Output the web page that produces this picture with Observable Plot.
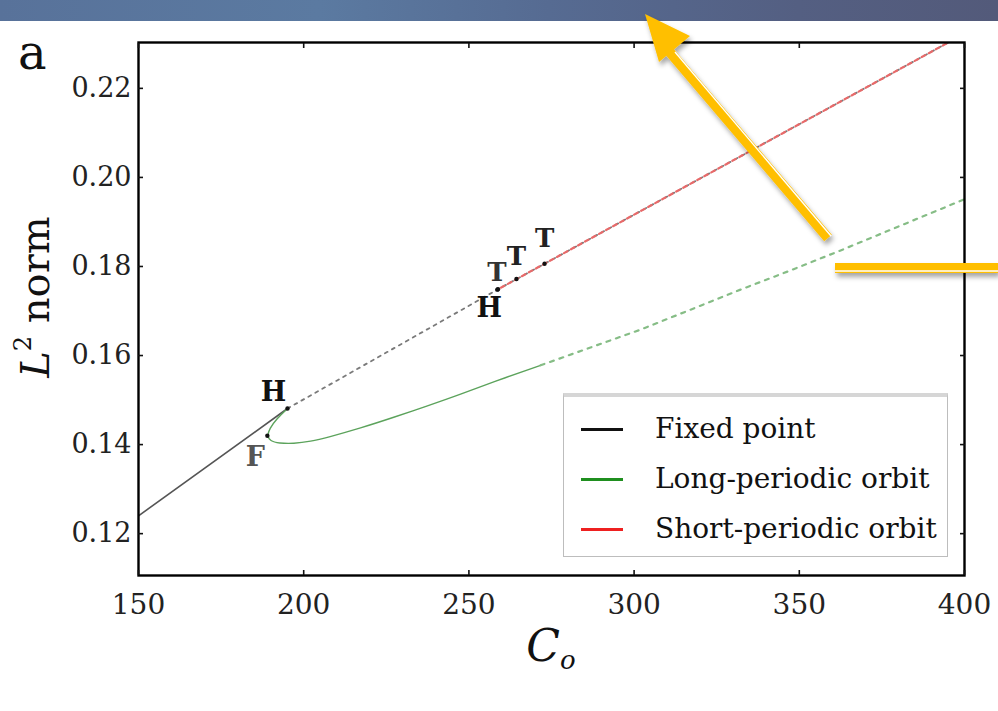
<!DOCTYPE html>
<html><head><meta charset="utf-8">
<script src="https://cdn.jsdelivr.net/npm/d3@7"></script>
<script src="https://cdn.jsdelivr.net/npm/@observablehq/plot@0.6"></script>
<style>
html,body{margin:0;padding:0;background:#fff;}
#wrap{position:relative;width:998px;height:711px;overflow:hidden;font-family:"DejaVu Serif","Liberation Serif",serif;color:#111;}
#chart{position:absolute;left:0;top:0;}
#banner{position:absolute;left:0;top:0;width:998px;height:21px;background:linear-gradient(90deg,#58729a 0%,#5b7aa1 32%,#566b92 55%,#545f82 80%,#535a7a 100%);}
#panel{position:absolute;left:18px;top:28px;font-size:48px;line-height:1;}
#ylab{position:absolute;left:33px;top:297px;transform:translate(-50%,-50%) rotate(-90deg);font-size:40px;white-space:nowrap;line-height:1;}
#xlab{position:absolute;left:551px;top:648px;transform:translate(-50%,-50%);font-size:44px;white-space:nowrap;line-height:1;}
#xlab sub{font-size:26px;vertical-align:-8px;}
#ylab sup{font-size:24px;vertical-align:18px;}
#legend{position:absolute;left:563px;top:393px;width:385px;height:164px;box-sizing:border-box;border:1.5px solid #bdbdbd;border-top:4px solid #d6d6d6;background:#fff;}
.row{position:absolute;left:0;height:40px;width:100%;}
.sw{position:absolute;left:17px;top:19px;width:42px;height:3px;}
.lt{position:absolute;left:91px;top:0;font-size:28px;line-height:40px;white-space:nowrap;}
#deco{position:absolute;left:0;top:0;pointer-events:none;}
</style></head><body>
<div id="wrap">
  <div id="chart"></div>
  <div id="banner"></div>
  <div id="panel">a</div>
  <div id="ylab"><i>L</i><sup>2</sup> norm</div>
  <div id="xlab"><i>C</i><sub><i>o</i></sub></div>
  <div id="legend"></div>
  <svg id="deco" width="998" height="711"></svg>
</div>
<script>
// ---- data ----
const xTicks = [150, 200, 250, 300, 350, 400];
const yTicks = [0.12, 0.14, 0.16, 0.18, 0.20, 0.22];

// fixed point, stable part
const fixedStableC = [150, 195.1];
const fixedStableL = [0.1240, 0.1481];
// fixed point, unstable part
const fixedUnstableC = [195.1, 258.6, 400];
const fixedUnstableL = [0.1481, 0.1748, 0.2323];

// long-periodic orbit, stable part
const longStableC = [195.1, 191.8, 189.6, 189.0, 189.8, 192.5, 196.9, 202.1, 207.2, 217.2, 227.2, 237.5, 247.5, 257.4, 271.7];
const longStableL = [0.1481, 0.1458, 0.1435, 0.1420, 0.1408, 0.1403, 0.1402, 0.1407, 0.1416, 0.1437, 0.1461, 0.1487, 0.1513, 0.1541, 0.1578];
// long-periodic orbit, unstable part
const longUnstableC = [271.7, 286.8, 301.9, 317.1, 332.2, 347.3, 362.5, 400];
const longUnstableL = [0.1578, 0.1618, 0.1658, 0.1703, 0.1748, 0.1791, 0.1836, 0.1951];

// short-periodic orbit (unstable)
const shortC = [258.6, 400];
const shortL = [0.1748, 0.2323];

// bifurcation points
const bifName = ["H", "F", "H", "T", "T", "T"];
const bifC = [195.1, 189.0, 258.6, 258.8, 264.4, 272.9];
const bifL = [0.1481, 0.1420, 0.1748, 0.1749, 0.1772, 0.1806];

const legendNames = ["Fixed point", "Long-periodic orbit", "Short-periodic orbit"];
const legendColors = ["#111111", "#1f8f1f", "#ee2020"];

// ---- build ----
const rows = (cs, ls) => cs.map((c, i) => ({c, l: ls[i]}));
const bif = bifName.map((n, i) => ({n, c: bifC[i], l: bifL[i]}));
const pick = i => [bif[i]];

const chart = Plot.plot({
  width: 998, height: 711,
  marginLeft: 138, marginRight: 34, marginTop: 42, marginBottom: 136,
  style: {fontFamily: "DejaVu Serif", fontSize: "27px", background: "transparent", color: "#111", overflow: "visible"},
  x: {domain: [150, 400], label: null},
  y: {domain: [0.1106, 0.2303], label: null},
  marks: [
    Plot.line(rows(fixedStableC, fixedStableL), {x: "c", y: "l", stroke: "#555", strokeWidth: 1.6, clip: true}),
    Plot.line(rows(fixedUnstableC, fixedUnstableL), {x: "c", y: "l", stroke: "#7a7a7a", strokeWidth: 1.8, strokeDasharray: "3,5", clip: true}),
    Plot.line(rows(shortC, shortL), {x: "c", y: "l", stroke: "#e86a6a", strokeWidth: 2.2, strokeDasharray: "4,4", strokeDashoffset: 4, clip: true}),
    Plot.line(rows(longStableC, longStableL), {x: "c", y: "l", stroke: "#5ca35c", strokeWidth: 1.4, curve: "basis", clip: true}),
    Plot.line(rows(longUnstableC, longUnstableL), {x: "c", y: "l", stroke: "#86bd86", strokeWidth: 2.2, strokeDasharray: "4,6", clip: true}),
    Plot.dot(bif, {x: "c", y: "l", r: 2.2, fill: "#111", stroke: null}),
    Plot.text(pick(0), {x: "c", y: "l", text: "n", dx: -14, dy: -16, fontSize: 27, fontWeight: "bold", fill: "#111"}),
    Plot.text(pick(1), {x: "c", y: "l", text: "n", dx: -12, dy: 22, fontSize: 27, fontWeight: "bold", fill: "#555"}),
    Plot.text(pick(2), {x: "c", y: "l", text: "n", dx: -8, dy: 19, fontSize: 27, fontWeight: "bold", fill: "#111"}),
    Plot.text(pick(3), {x: "c", y: "l", text: "n", dx: -1, dy: -17, fontSize: 26, fontWeight: "bold", fill: "#333"}),
    Plot.text(pick(4), {x: "c", y: "l", text: "n", dx: 0, dy: -22, fontSize: 26, fontWeight: "bold", fill: "#222"}),
    Plot.text(pick(5), {x: "c", y: "l", text: "n", dx: 0, dy: -25, fontSize: 26, fontWeight: "bold", fill: "#222"}),
    Plot.frame({stroke: "#000", strokeWidth: 2.4}),
    Plot.axisX(xTicks, {anchor: "bottom", tickSize: -5, tickPadding: 24, strokeWidth: 1.6, tickFormat: d => String(d), label: null, fontSize: 28, fill: "#222"}),
    Plot.axisX(xTicks, {anchor: "top", tickSize: -5, strokeWidth: 1.6, tickFormat: () => "", label: null}),
    Plot.axisY(yTicks, {anchor: "left", tickSize: -5, tickPadding: 12, strokeWidth: 1.6, tickFormat: d3.format(".2f"), label: null, fontSize: 27, fill: "#222"}),
    Plot.axisY(yTicks, {anchor: "right", tickSize: -5, strokeWidth: 1.6, tickFormat: () => "", label: null})
  ]
});
document.getElementById("chart").appendChild(chart);

// legend (HTML)
const leg = document.getElementById("legend");
legendNames.forEach((name, i) => {
  const r = document.createElement("div");
  r.className = "row";
  r.style.top = (12 + i * 50) + "px";
  r.innerHTML = `<div class="sw" style="background:${legendColors[i]}"></div><div class="lt">${name}</div>`;
  leg.appendChild(r);
});

// slide decoration: yellow arrows
const deco = d3.select("#deco");
const defs = deco.append("defs");
const f = defs.append("filter").attr("id", "sh").attr("x", "-20%").attr("y", "-20%").attr("width", "140%").attr("height", "140%");
f.append("feDropShadow").attr("dx", 2).attr("dy", 4).attr("stdDeviation", 2.5).attr("flood-color", "#000").attr("flood-opacity", 0.35);
const g = deco.append("g").attr("filter", "url(#sh)");
const Y = "#ffbf00";
g.append("line").attr("x1", 828).attr("y1", 238).attr("x2", 668).attr("y2", 50).attr("stroke", Y).attr("stroke-width", 10);
g.append("polygon").attr("points", "645,14 690,36 659,62").attr("fill", Y);
g.append("line").attr("x1", 835).attr("y1", 268).attr("x2", 998).attr("y2", 268).attr("stroke", Y).attr("stroke-width", 10);
deco.append("line").attr("x1", 831).attr("y1", 236).attr("x2", 675).attr("y2", 52).attr("stroke", "#fff").attr("stroke-width", 1.4);
deco.append("line").attr("x1", 835).attr("y1", 271).attr("x2", 998).attr("y2", 271).attr("stroke", "#fff").attr("stroke-width", 1.4);
</script>
</body></html>
